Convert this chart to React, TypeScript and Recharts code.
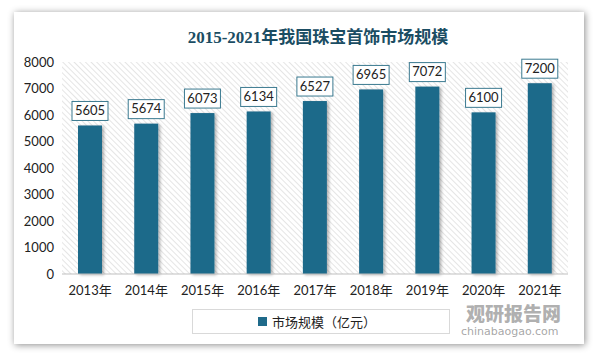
import React from "react";
import { BarChart, Bar, XAxis, YAxis, CartesianGrid, LabelList } from "recharts";

const years = ["2013年", "2014年", "2015年", "2016年", "2017年", "2018年", "2019年", "2020年", "2021年"];
const marketSize = [5605, 5674, 6073, 6134, 6527, 6965, 7072, 6100, 7200];
const yTicks = [0, 1000, 2000, 3000, 4000, 5000, 6000, 7000, 8000];
const seriesName = "市场规模（亿元）";
const title = "2015-2021年我国珠宝首饰市场规模";

const data = years.map((y, i) => ({ year: y, value: marketSize[i] }));

const BAR_COLOR = "#1f6a8a";
const FONT = "Lato, 'Noto Sans CJK SC', sans-serif";

const renderLabel = (props: any) => {
  const { x, y, width, value } = props;
  const cx = Number(x) + Number(width) / 2;
  const bw = 36;
  const bh = 19;
  const top = Number(y) - 5 - bh;
  return (
    <g>
      <rect x={cx - bw / 2} y={top} width={bw} height={bh} fill="#fff" stroke="#3b7a90" strokeWidth={1} />
      <text x={cx} y={top + bh / 2 + 1} textAnchor="middle" dominantBaseline="middle" fontSize={13} fill="#222" fontFamily={FONT}>
        {value}
      </text>
    </g>
  );
};

const BarShape = (props: any) => {
  const { x, y, width, height } = props;
  return <rect x={x} y={y} width={width} height={height} fill={BAR_COLOR} filter="url(#barShadow)" />;
};

export default function App() {
  return (
    <div style={{ position: "absolute", left: 0, top: 0, width: 600, height: 357, background: "#fff", overflow: "hidden" }}>
      <div
        style={{
          position: "absolute",
          left: 14,
          top: 12,
          width: 570,
          height: 332,
          background: "#fff",
          boxShadow: "1px 1px 7px rgba(0,0,0,0.45)",
        }}
      />
      <div
        style={{
          position: "absolute",
          left: 318,
          top: 27,
          transform: "translateX(-50%)",
          whiteSpace: "nowrap",
          fontSize: 17,
          fontWeight: "bold",
          color: "#1b4d63",
          fontFamily: "'Liberation Serif', 'Noto Sans CJK SC', serif",
          lineHeight: "22px",
        }}
      >
        {title}
      </div>
      <div
        style={{
          position: "absolute",
          left: 466,
          top: 304,
          fontFamily: "'Noto Sans CJK SC', sans-serif",
          fontWeight: 900,
          fontSize: 19,
          color: "rgba(150,150,150,0.75)",
          whiteSpace: "nowrap",
          lineHeight: "18px",
        }}
      >
        观研报告网
      </div>
      <div
        style={{
          position: "absolute",
          left: 461,
          top: 325,
          fontFamily: "'DejaVu Sans', sans-serif",
          fontSize: 11,
          color: "rgba(150,150,150,0.85)",
          whiteSpace: "nowrap",
          lineHeight: "13px",
        }}
      >
        chinabaogao.com
      </div>
      <div style={{ position: "absolute", left: 0, top: 0 }}>
        <BarChart width={600} height={357} data={data} margin={{ top: 62, right: 32, bottom: 53, left: 0 }} barCategoryGap={0}>
          <defs>
            <pattern id="hatch" patternUnits="userSpaceOnUse" width="4" height="4" patternTransform="rotate(-45)">
              <rect width="4" height="4" fill="#ffffff" />
              <line x1="0" y1="0" x2="0" y2="4" stroke="#d4d4d4" strokeWidth="1.2" />
            </pattern>
            <filter id="barShadow" x="-20%" y="-5%" width="150%" height="115%">
              <feDropShadow dx="2" dy="1" stdDeviation="1.5" floodColor="#000" floodOpacity="0.3" />
            </filter>
          </defs>
          <CartesianGrid horizontal={false} vertical={false} fill="url(#hatch)" stroke="none" />
          <XAxis
            dataKey="year"
            height={30}
            axisLine={{ stroke: "#bfbfbf" }}
            tickLine={false}
            tickMargin={6}
            interval={0}
            tick={{ fontSize: 13, fill: "#222", fontFamily: FONT }}
          />
          <YAxis
            width={62}
            domain={[0, 8000]}
            ticks={yTicks}
            axisLine={false}
            tickLine={false}
            interval={0}
            tick={{ fontSize: 13, fill: "#222", fontFamily: FONT }}
          />
          <Bar dataKey="value" barSize={24} fill={BAR_COLOR} isAnimationActive={false} shape={<BarShape />}>
            <LabelList dataKey="value" content={renderLabel} />
          </Bar>
        </BarChart>
      </div>
      <div
        style={{
          position: "absolute",
          left: 192,
          top: 309,
          width: 258,
          height: 25,
          border: "1px solid #d9d9d9",
          boxSizing: "border-box",
          background: "#fff",
        }}
      />
      <div
        style={{
          position: "absolute",
          left: 258,
          top: 312,
          height: 19,
          display: "flex",
          alignItems: "center",
          whiteSpace: "nowrap",
          fontFamily: FONT,
          fontSize: 13,
          color: "#222",
        }}
      >
        <span style={{ display: "inline-block", width: 9, height: 9, background: BAR_COLOR, marginRight: 5 }} />
        {seriesName}
      </div>
    </div>
  );
}
